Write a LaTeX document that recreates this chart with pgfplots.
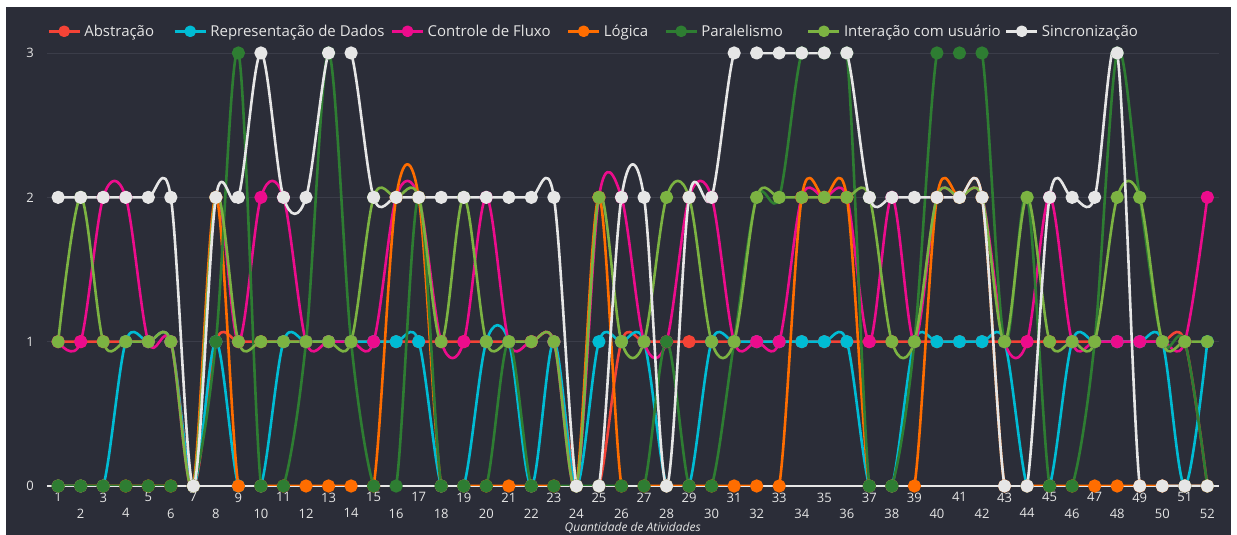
\documentclass[border=0pt]{standalone}
\usepackage{pgfplots}
\pgfplotsset{compat=1.18}
\usepackage{pgfplotstable}
\usepackage{fontspec}
\setmainfont{Open Sans}
\definecolor{bg}{HTML}{2B2D38}
\definecolor{gridc}{HTML}{3B3D49}
\definecolor{cA}{HTML}{F44336}
\definecolor{cR}{HTML}{00BCD4}
\definecolor{cC}{HTML}{EC0C8C}
\definecolor{cL}{HTML}{FF6D00}
\definecolor{cP}{HTML}{2E7D32}
\definecolor{cI}{HTML}{7CB342}
\definecolor{cS}{HTML}{E6E6E6}
\definecolor{txt}{HTML}{E4E4E4}

\pgfplotstableread{
x a r c l p i s
1 1 0 1 0 0 1 2
2 1 0 1 0 0 2 2
3 1 0 2 0 0 1 2
4 1 1 2 0 0 1 2
5 1 1 1 0 0 1 2
6 1 1 1 0 0 1 2
7 0 0 0 0 0 0 0
8 1 1 2 2 1 2 2
9 1 0 1 0 3 1 2
10 1 0 2 0 0 1 3
11 1 1 2 0 0 1 2
12 1 1 1 0 1 1 2
13 1 1 1 0 3 1 3
14 1 1 1 0 1 1 3
15 1 1 1 0 0 2 2
16 1 1 2 2 0 2 2
17 1 1 2 2 2 2 2
18 1 0 1 0 0 1 2
19 1 0 1 0 0 2 2
20 1 1 2 0 0 1 2
21 1 1 1 0 1 1 2
22 1 0 1 0 0 1 2
23 1 1 1 0 0 1 2
24 0 0 0 0 0 0 0
25 0 1 2 2 0 2 0
26 1 1 2 0 0 1 2
27 1 1 1 0 0 1 2
28 1 0 1 0 1 2 0
29 1 0 2 0 0 2 2
30 1 1 2 0 0 1 2
31 1 1 1 0 1 1 3
32 1 1 1 0 2 2 3
33 1 1 1 0 2 2 3
34 1 1 2 2 3 2 3
35 1 1 2 2 3 2 3
36 1 1 2 2 3 2 3
37 1 0 1 0 0 2 2
38 1 0 2 0 0 1 2
39 1 1 1 0 1 1 2
40 1 1 2 2 3 2 2
41 1 1 2 2 3 2 2
42 1 1 2 2 3 2 2
43 1 1 1 0 1 1 0
44 1 0 1 0 2 2 0
45 1 0 2 0 0 1 2
46 1 1 1 0 0 1 2
47 1 1 1 0 1 1 2
48 1 1 1 0 3 2 3
49 1 1 1 0 2 2 0
50 1 1 1 0 1 1 0
51 1 0 1 0 1 1 0
52 0 1 2 0 0 1 0
}\data

\begin{document}
\begin{tikzpicture}[x=1pt,y=1pt]
\useasboundingbox (-46.9,-49) rectangle (1190.1,486);
\fill[white] (-46.9,-49) rectangle (1190.1,486);
\fill[bg] (-40.9,-49) rectangle (1184.1,479);
\begin{axis}[
  at={(0,0)}, anchor=south west,
  scale only axis, width=1171.7pt, height=433pt,
  xmin=0.5, xmax=52.5, ymin=0, ymax=3,
  axis line style={draw=none},
  major tick length=0pt,
  xtick={1,3,...,51},
  extra x ticks={2,4,...,52},
  extra x tick style={xmajorgrids=false, tick label style={yshift=-16pt}},
  ytick={1,2,3},
  extra y ticks={0},
  extra y tick style={ymajorgrids=true, major grid style={cS, line width=1.3pt}},
  ymajorgrids=true, xmajorgrids=false,
  major grid style={gridc, line width=0.9pt},
  /pgf/number format/assume math mode=true,
  tick label style={text=txt, font=\fontsize{13pt}{15pt}\selectfont, inner sep=0pt},
  xticklabel style={anchor=north, yshift=-6.4pt},
  yticklabel style={anchor=east, xshift=-13pt},
  xlabel={Quantidade de Atividades},
  xlabel style={at={(axis description cs:0.5,0)}, anchor=center, yshift=-41.7pt,
     text=txt, font=\fontsize{12pt}{14pt}\selectfont\itshape},
  every axis plot/.append style={line width=2.6pt, smooth, tension=0.55, line join=round,
     mark=*, mark size=5.3pt, mark options={line width=0.4pt}},
  legend columns=-1,
  legend style={at={(0,1)}, anchor=south west, yshift=15pt, draw=none, fill=none,
     text=txt, font=\fontsize{15pt}{18pt}\selectfont, inner sep=0pt,
     /tikz/column 2/.style={column sep=16pt},
     /tikz/column 4/.style={column sep=3pt},
     /tikz/column 6/.style={column sep=13pt},
     /tikz/column 8/.style={column sep=13pt},
     /tikz/column 10/.style={column sep=21pt},
     /tikz/column 12/.style={column sep=1pt},
     nodes={inner xsep=3pt, inner ysep=0pt}},
  legend image code/.code={
     \draw[mark repeat=2, mark phase=2, line width=3.2pt, mark size=4.2pt]
        plot coordinates {(0pt,0pt) (15.5pt,0pt) (31pt,0pt)};},
]
\addplot[cA, mark options={fill=cA}] table[x=x,y=a]{\data};
\addlegendentry{Abstração}
\addplot[cR, mark options={fill=cR}] table[x=x,y=r]{\data};
\addlegendentry{Representação de Dados}
\addplot[cC, mark options={fill=cC}] table[x=x,y=c]{\data};
\addlegendentry{Controle de Fluxo}
\addplot[cL, mark options={fill=cL}] table[x=x,y=l]{\data};
\addlegendentry{Lógica}
\addplot[cP, mark options={fill=cP}] table[x=x,y=p]{\data};
\addlegendentry{Paralelismo}
\addplot[cI, mark options={fill=cI}] table[x=x,y=i]{\data};
\addlegendentry{Interação com usuário}
\addplot[cS, mark options={fill=cS}] table[x=x,y=s]{\data};
\addlegendentry{Sincronização}
\end{axis}
\end{tikzpicture}
\end{document}
